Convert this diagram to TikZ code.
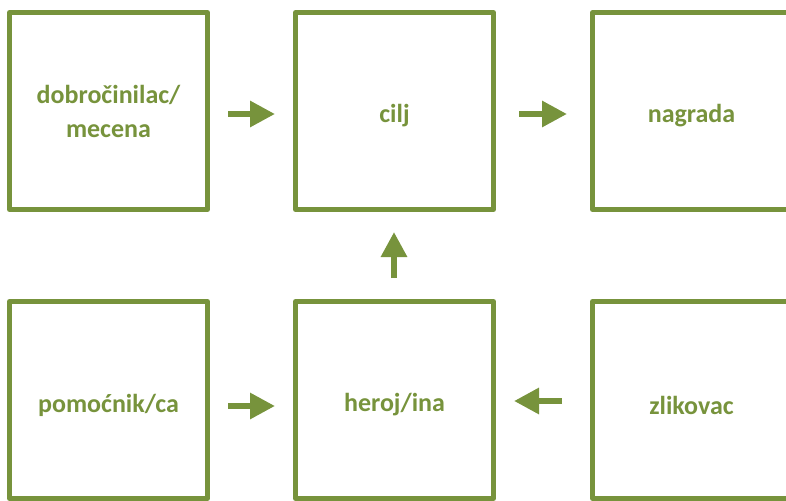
\documentclass[tikz,border=0pt]{standalone}
\usepackage{fontspec}
\setmainfont{Carlito}
\usetikzlibrary{arrows.meta}
\definecolor{olivegr}{HTML}{77933C}
\newcommand{\lowtext}[2][-5pt]{\raisebox{#1}[\height][\depth]{#2}}
\tikzset{
  card/.style={draw=olivegr, line width=5pt, minimum width=198pt, minimum height=197pt,
    inner sep=0pt, align=center, text=olivegr, line join=round,
    font=\bfseries\fontsize{26}{36}\selectfont},
  flow/.style={draw=olivegr, line width=6pt, -{Triangle[length=25pt,width=25pt]}, fill=olivegr}
}
\begin{document}
\begin{tikzpicture}[x=1pt,y=-1pt]
\useasboundingbox (0,0) rectangle (786,500);
\node[card] (ben) at (108.5,111) {\lowtext[-2pt]{\begin{tabular}{@{}c@{}}dobročinilac/\\[-2pt]mecena\end{tabular}}};
\node[card] (goal) at (394.5,111) {\lowtext{cilj}};
\node[card] (prize) at (691.5,111) {\lowtext{nagrada}};
\node[card] (help) at (108.5,400) {\lowtext{pomoćnik/ca}};
\node[card] (hero) at (394.5,400) {\lowtext{heroj/ina}};
\node[card] (vill) at (691.5,400) {\lowtext{zlikovac}};
\draw[flow, shorten <=18pt, shorten >=18pt] ([yshift=-3pt]ben.east) -- ([yshift=-3pt]goal.west);
\draw[flow, shorten <=23pt, shorten >=23pt] ([yshift=-3pt]goal.east) -- ([yshift=-3pt]prize.west);
\draw[flow, shorten <=18pt, shorten >=18pt] ([yshift=-6pt]help.east) -- ([yshift=-6pt]hero.west);
\draw[flow, shorten <=28pt, shorten >=18pt] ([yshift=-1pt]vill.west) -- ([yshift=-1pt]hero.east);
\draw[flow, shorten <=21pt, shorten >=20pt] ([xshift=-0.5pt]hero.north) -- ([xshift=-0.5pt]goal.south);
\end{tikzpicture}
\end{document}
